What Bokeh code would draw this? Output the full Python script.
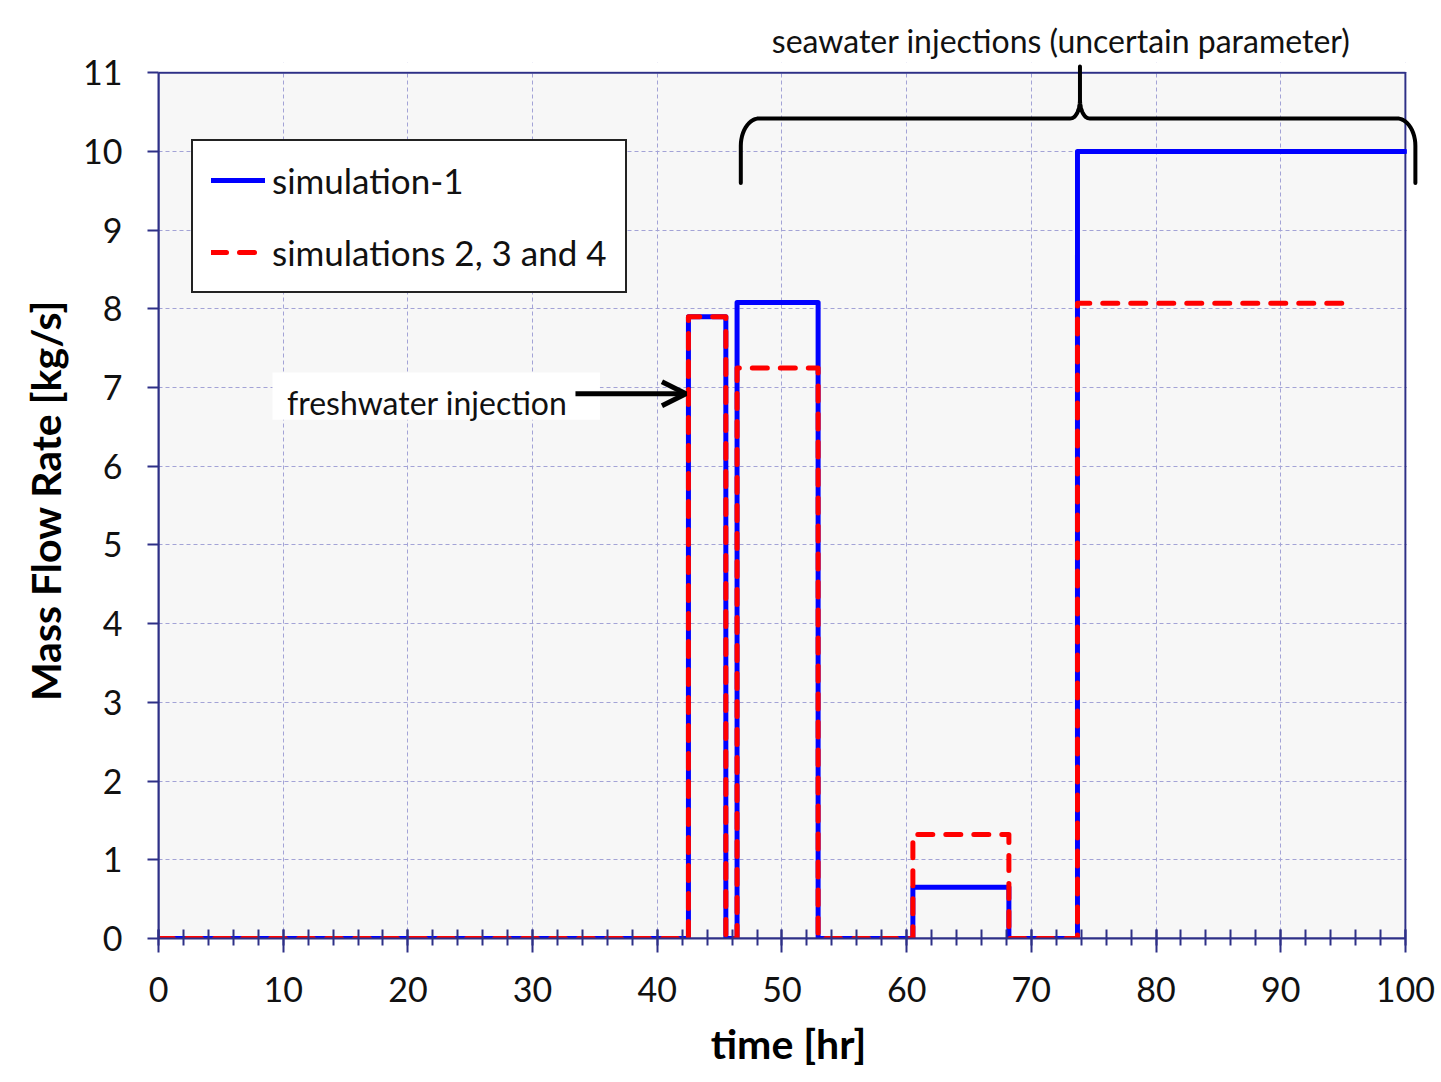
import numpy as np
from bokeh.plotting import figure
from bokeh.models import (Range1d, SingleIntervalTicker, Legend, LegendItem, Label,
                          Arrow, OpenHead, BoxAnnotation, PolyAnnotation)
from bokeh.embed import file_html
from bokeh.resources import INLINE

# ---------------- data ----------------
time_sim1 = [0, 42.5, 45.5, 46.4, 52.9, 60.5, 68.2, 73.7, 100.0]
rate_sim1 = [0, 7.9, 0, 8.08, 0, 0.65, 0, 10.0, 10.0]
time_sim234 = [0, 42.5, 45.5, 46.4, 52.9, 60.5, 68.2, 73.7, 95.3]
rate_sim234 = [0, 7.9, 0, 7.25, 0, 1.32, 0, 8.07, 8.07]
series_labels = ["simulation-1", "simulations 2, 3 and 4"]
x_label = "time [hr]"
y_label = "Mass Flow Rate [kg/s]"
note_fresh = "freshwater injection"
note_sea = "seawater injections (uncertain parameter)"

FONT = "Lato"
NAVY = "#2e3087"
GRID = "#a3a3d6"
X_MAX, Y_MAX = 100, 11          # axis extent
X_VIEW, Y_VIEW = 101.05, 11.13  # a little room for the brace

p = figure(frame_width=1260, frame_height=876,
           min_border_left=158, min_border_top=62, min_border_right=20, min_border_bottom=140,
           x_range=Range1d(0, X_VIEW), y_range=Range1d(0, Y_VIEW),
           output_backend="svg", toolbar_location=None,
           background_fill_color="white", border_fill_color="white",
           outline_line_color=None)

# plot-area background (under the grid)
p.add_layout(BoxAnnotation(left=0, right=X_MAX, bottom=0, top=Y_MAX, level="image",
                           fill_color="#f7f7f7", fill_alpha=1.0, line_alpha=0))

# axes
p.xaxis.ticker = SingleIntervalTicker(interval=10, num_minor_ticks=5)
p.yaxis.ticker = SingleIntervalTicker(interval=1, num_minor_ticks=0)
p.xgrid.ticker = SingleIntervalTicker(interval=10)
p.ygrid.ticker = SingleIntervalTicker(interval=1)
p.xaxis.bounds = (0, X_MAX)
p.yaxis.bounds = (0, Y_MAX)
for ax in (p.xaxis, p.yaxis):
    ax.axis_line_color = NAVY
    ax.axis_line_width = 2
    ax.major_tick_line_color = NAVY
    ax.major_tick_line_width = 2
    ax.minor_tick_line_color = NAVY
    ax.minor_tick_line_width = 2
    ax.major_label_text_font = FONT
    ax.major_label_text_font_size = "34px"
    ax.major_label_text_color = "#111111"
    ax.axis_label_text_font = FONT
    ax.axis_label_text_font_size = "41px"
    ax.axis_label_text_font_style = "bold"
    ax.axis_label_text_color = "#000000"
p.xaxis.major_tick_in = 9
p.xaxis.major_tick_out = 14
p.xaxis.minor_tick_in = 9
p.xaxis.minor_tick_out = 7
p.xaxis.major_label_standoff = 24
p.xaxis.axis_label_standoff = 14
p.yaxis.major_tick_in = 0
p.yaxis.major_tick_out = 11
p.yaxis.minor_tick_in = 0
p.yaxis.minor_tick_out = 0
p.yaxis.major_label_standoff = 25
p.yaxis.axis_label_standoff = 10
p.xaxis.axis_label = x_label
p.yaxis.axis_label = y_label

for g in (p.xgrid, p.ygrid):
    g.grid_line_color = GRID
    g.grid_line_dash = "4 3"
    g.grid_line_width = 1

# frame border (top / right) under the data
p.add_layout(BoxAnnotation(left=0, right=X_MAX, bottom=0, top=Y_MAX, level="underlay",
                           fill_alpha=0, line_color=NAVY, line_width=2, line_alpha=1))

# white cover outside the plot area (hides grid overhang)
p.add_layout(BoxAnnotation(bottom=Y_MAX + 0.02, fill_color="white", fill_alpha=1.0, line_alpha=0))
p.add_layout(BoxAnnotation(left=X_MAX + 0.12, fill_color="white", fill_alpha=1.0, line_alpha=0))

# series
r1 = p.step(time_sim1, rate_sim1, mode="after", line_color="#0000ff", line_width=5,
            line_join="round", line_cap="round")
r2 = p.step(time_sim234, rate_sim234, mode="after", line_color="#ff0000", line_width=5,
            line_dash="15 13", line_join="round", line_cap="round")

legend = Legend(items=[LegendItem(label=series_labels[0], renderers=[r1]),
                       LegendItem(label=series_labels[1], renderers=[r2])],
                location=(33, 645), orientation="vertical",
                label_text_font=FONT, label_text_font_size="35px", label_text_color="#111111",
                glyph_width=54, glyph_height=40, label_height=40, label_standoff=7,
                spacing=30, padding=18, margin=0,
                border_line_color="#222222", border_line_width=2, border_line_alpha=1.0,
                background_fill_color="white", background_fill_alpha=1.0)
p.add_layout(legend)

# freshwater annotation
p.add_layout(BoxAnnotation(left=9.14, right=35.4, bottom=6.59, top=7.19,
                           fill_color="white", fill_alpha=1.0, line_alpha=0))
p.add_layout(Label(x=10.3, y=6.81, text=note_fresh, text_font=FONT, text_font_size="32px",
                   text_color="#111111", text_align="left", text_baseline="alphabetic"))
p.add_layout(Arrow(x_start=33.44, y_start=6.92, x_end=42.3, y_end=6.92,
                   line_width=5, line_color="black",
                   end=OpenHead(size=24, line_width=5, line_color="black")))

# brace over seawater injections
def arc(cx, cy, rx, ry, a0, a1, n=14):
    t = np.radians(np.linspace(a0, a1, n))
    return list(cx + rx * np.cos(t)), list(cy + ry * np.sin(t))

x0, x1, xm = 46.7, 100.8, 73.9
y_end, y_bar, y_tip = 9.6, 10.42, 11.08
rxc, ryc = 1.5, 0.35
rxt, ryt = 0.75, 0.24
bx, by = [x0], [y_end]
ax_, ay_ = arc(x0 + rxc, y_bar - ryc, rxc, ryc, 180, 90); bx += ax_; by += ay_
ax_, ay_ = arc(xm - rxt, y_bar + ryt, rxt, ryt, -90, 0); bx += ax_; by += ay_
bx += [xm]; by += [y_tip]
ax_, ay_ = arc(xm + rxt, y_bar + ryt, rxt, ryt, 180, 270); bx += ax_; by += ay_
ax_, ay_ = arc(x1 - rxc, y_bar - ryc, rxc, ryc, 90, 0); bx += ax_; by += ay_
bx += [x1]; by += [y_end]
xs = bx + bx[::-1]
ys = by + by[::-1]
p.add_layout(PolyAnnotation(xs=xs, ys=ys, fill_alpha=0, line_color="black", line_alpha=1.0,
                            line_width=4, line_join="round"))

# title used for the brace caption (sits above the frame)
p.title.text = note_sea
p.title.align = "right"
p.title.offset = 68
p.title.standoff = 6
p.title.text_font = FONT
p.title.text_font_size = "32px"
p.title.text_font_style = "normal"
p.title.text_color = "#111111"

open("out.html", "w").write(file_html(p, INLINE))
